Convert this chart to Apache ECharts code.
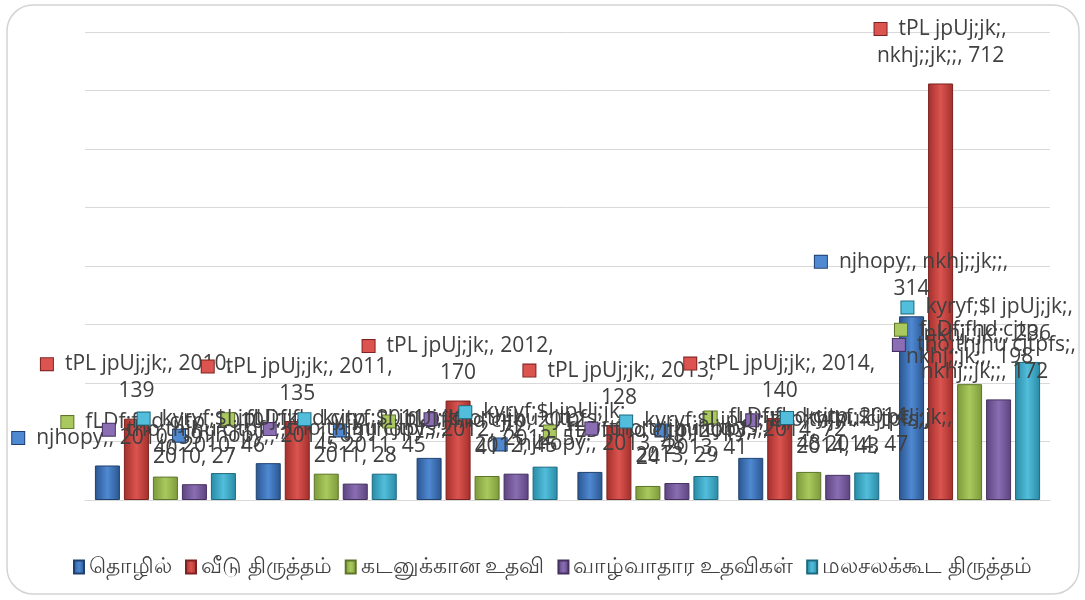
<!DOCTYPE html>
<html>
<head>
<meta charset="utf-8">
<script src="https://cdn.jsdelivr.net/npm/echarts@6/dist/echarts.min.js"></script>
<style>
  html, body { margin: 0; padding: 0; background: #fff; }
  #chart { width: 1085px; height: 600px; }
</style>
</head>
<body>
<div id="chart"></div>
<script>
'use strict';

// categories (last one is the total, shown only inside labels)
var categories = ['2010', '2011', '2012', '2013', '2014', 'nkhj;;jk;;'];

// legend names (Tamil) and the label names as they appear in the picture
var legendNames = ['தொழில்', 'வீடு திருத்தம்', 'கடனுக்கான உதவி', 'வாழ்வாதார உதவிகள்', 'மலசலக்கூட திருத்தம்'];
var labelNames = ['njhopy;', 'tPL jpUj;jk;', 'fLDf;fhd cjtp', 'tho;thjhu cjtpfs;', 'kyryf;$l jpUj;jk;'];

var thozhil = [59, 63, 72, 48, 72, 314];
var veedu = [139, 135, 170, 128, 140, 712];
var kadan = [40, 45, 41, 24, 48, 198];
var vazhvu = [27, 28, 45, 29, 43, 172];
var malasala = [46, 45, 57, 41, 47, 236];

var yTicks = { min: 0, max: 800, interval: 100 };

var values = [thozhil, veedu, kadan, vazhvu, malasala];

// dark edge, light middle, border
var shades = [
  ['#2a5590', '#4f89d2', '#1f416f'],
  ['#a32f2b', '#db5450', '#7d2220'],
  ['#7c9a3a', '#a9c95e', '#5d7529'],
  ['#5c447f', '#8a6db2', '#443160'],
  ['#288aa5', '#52bedb', '#1d6a80']
];
// label shift to the right, per series
var labelShift = [12, 5, 5, 0, 3];

var labelFont = '21px "Open Sans"';
var ctx = document.createElement('canvas').getContext('2d');
ctx.font = labelFont;
var maxW = (ctx.measureText(labelNames[2] + ', ' + categories[0] + ',').width +
            ctx.measureText(labelNames[0] + ', ' + categories[5] + ', ' + thozhil[5]).width) / 2;

var wrap = function(str) {
  var words = str.split(' '),
      lines = [],
      cur = '';
  words.forEach(function(w) {
    var t = cur ? cur + ' ' + w : w;
    if (cur && ctx.measureText(t).width > maxW) {
      lines.push(cur);
      cur = w;
    } else {
      cur = t;
    }
  });
  lines.push(cur);
  return lines;
};

var rich = { g: { width: 12 } };
shades.forEach(function(s, i) {
  rich['m' + i] = {
    width: 12, height: 12,
    backgroundColor: s[1],
    borderColor: s[2], borderWidth: 1
  };
});

var series = values.map(function(v, i) {
  var s = shades[i];
  return {
    name: legendNames[i],
    type: 'bar',
    data: v,
    barWidth: 25,
    barGap: '16%',
    itemStyle: {
      color: new echarts.graphic.LinearGradient(0, 0, 1, 0, [
        { offset: 0, color: s[0] },
        { offset: 0.5, color: s[1] },
        { offset: 1, color: s[0] }
      ]),
      borderColor: s[2],
      borderWidth: 1
    },
    label: {
      show: true,
      position: 'top',
      distance: 14,
      offset: [labelShift[i], 0],
      color: '#404040',
      fontFamily: 'Open Sans',
      fontSize: 21,
      lineHeight: 27,
      align: 'center',
      rich: rich,
      formatter: function(p) {
        var lines = wrap(labelNames[p.seriesIndex] + ', ' + p.name + ', ' + p.value);
        return '{m' + p.seriesIndex + '|}{g|}' + lines.join('\n');
      }
    },
    // keep labels inside the frame, like the original does
    labelLayout: function(p) {
      var r = p.labelRect;
      var over = r.x + r.width - 1076;
      if (over > 0) {
        return { dx: -over };
      }
    },
    z: 2
  };
});

var chart = echarts.init(document.getElementById('chart'));

chart.setOption({
  animation: false,
  backgroundColor: '#fff',
  graphic: [{
    type: 'rect',
    shape: { x: 7, y: 5, width: 1072, height: 589, r: 26 },
    style: { fill: 'none', stroke: '#d4d4d4', lineWidth: 1.5 },
    z: -10
  }],
  grid: { left: 85, right: 35, top: 32, bottom: 100 },
  legend: {
    top: 551,
    left: 68,
    icon: 'rect',
    itemWidth: 10,
    itemHeight: 13,
    itemGap: 13,
    textStyle: { fontSize: 22, color: '#404040', fontFamily: 'Noto Sans, sans-serif' },
    data: legendNames
  },
  xAxis: {
    type: 'category',
    data: categories,
    axisLabel: { show: false },
    axisTick: { show: false },
    axisLine: { lineStyle: { color: '#d9d9d9' } }
  },
  yAxis: {
    type: 'value',
    min: yTicks.min,
    max: yTicks.max,
    interval: yTicks.interval,
    axisLabel: { show: false },
    axisLine: { show: false },
    axisTick: { show: false },
    splitLine: { lineStyle: { color: '#d9d9d9' } }
  },
  series: series
});
</script>
</body>
</html>
